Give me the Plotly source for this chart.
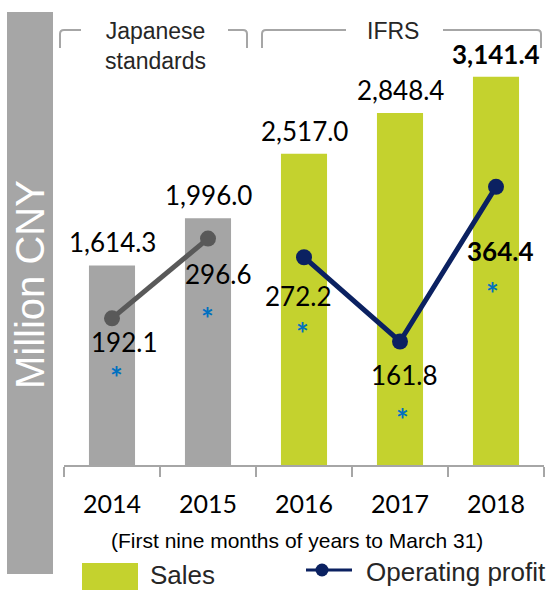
import plotly.graph_objects as go

# ---- data -------------------------------------------------------------
years = ["2014", "2015", "2016", "2017", "2018"]
sales = [1614.3, 1996.0, 2517.0, 2848.4, 3141.4]
operating_profit = [192.1, 296.6, 272.2, 161.8, 364.4]
n_japanese = 2  # first two periods reported under Japanese standards, rest IFRS

sales_text = [f"{v:,.1f}" for v in sales]
profit_text = [f"{v:,.1f}" for v in operating_profit]

# ---- canvas geometry ---------------------------------------------------
W, H = 554, 590
ML, MR, MT, MB = 64, 10, 20, 125
PW, PH = W - ML - MR, H - MT - MB
SALES_MAX = 3600
PROFIT_MAX = 583

GREY_BAR = "#A5A5A5"
GREEN = "#C4D22E"
NAVY = "#0B2161"
DARK_LINE = "#595959"
STAR_BLUE = "#0070C0"
BRACKET = "#A6A6A6"
NUM_FONT = "Lato"
TXT_FONT = "Liberation Sans"


def px(x):
    return (x - ML) / PW


def py(y):
    return (H - MB - y) / PH


fig = go.Figure()

# sales bars
fig.add_trace(go.Bar(
    x=years[:n_japanese], y=sales[:n_japanese], width=0.48,
    marker=dict(color=GREY_BAR, line=dict(width=0)),
    name="Sales (Japanese standards)", showlegend=False, hoverinfo="x+y",
))
fig.add_trace(go.Bar(
    x=years[n_japanese:], y=sales[n_japanese:], width=0.48,
    marker=dict(color=GREEN, line=dict(width=0)),
    name="Sales", showlegend=False, hoverinfo="x+y",
))

# operating profit lines (secondary axis)
fig.add_trace(go.Scatter(
    x=years[:n_japanese], y=operating_profit[:n_japanese], yaxis="y2",
    mode="lines+markers", line=dict(color=DARK_LINE, width=5),
    marker=dict(size=16, color=DARK_LINE), showlegend=False,
    name="Operating profit (Japanese standards)",
))
fig.add_trace(go.Scatter(
    x=years[n_japanese:], y=operating_profit[n_japanese:], yaxis="y2",
    mode="lines+markers", line=dict(color=NAVY, width=5),
    marker=dict(size=16, color=NAVY), showlegend=False,
    name="Operating profit",
))

annotations = []

# sales value labels above the bars (x given as category index)
for i, (v, t) in enumerate(zip(sales, sales_text)):
    bold = i == len(years) - 1
    annotations.append(dict(
        x=i, y=v, xref="x", yref="y", text=f"<b>{t}</b>" if bold else t,
        showarrow=False, xanchor="center", yanchor="bottom", yshift=5,
        font=dict(family=NUM_FONT, size=26, color="#000000"),
    ))

# operating profit labels and asterisks, placed around each marker
profit_label_shift = [(12, -24), (10, -35), (-6, -39), (4, -33), (4, -64)]
star_shift = [(4, -59), (-1, -79), (-2, -76), (2, -77), (-4, -106)]
for i, (v, t) in enumerate(zip(operating_profit, profit_text)):
    bold = i == len(years) - 1
    dx, dy = profit_label_shift[i]
    annotations.append(dict(
        x=i, y=v, xref="x", yref="y2", text=f"<b>{t}</b>" if bold else t,
        showarrow=False, xanchor="center", yanchor="middle",
        xshift=dx, yshift=dy,
        font=dict(family=NUM_FONT, size=26, color="#000000"),
    ))
    sx, sy = star_shift[i]
    annotations.append(dict(
        x=i, y=v, xref="x", yref="y2", text="<b>*</b>",
        showarrow=False, xanchor="center", yanchor="middle",
        xshift=sx, yshift=sy,
        font=dict(family=NUM_FONT, size=30, color=STAR_BLUE),
    ))


def paper_text(x, y, text, size, color="#262626", family=TXT_FONT,
               xanchor="center", angle=0):
    return dict(x=px(x), y=py(y), xref="paper", yref="paper", text=text,
                showarrow=False, xanchor=xanchor, yanchor="middle",
                textangle=angle,
                font=dict(family=family, size=size, color=color))


annotations += [
    paper_text(155, 46, "Japanese<br>standards", 23),
    paper_text(393, 31, "IFRS", 23),
    paper_text(30, 285, "Million CNY", 40, color="#FFFFFF", angle=-90),
    paper_text(297, 540, "(First nine months of years to March 31)", 21,
               color="#000000"),
    paper_text(148, 575, "Sales", 26, xanchor="left"),
    paper_text(364, 572, "Operating profit", 26, xanchor="left"),
]


def bracket_path(x0, x1, xgap0, xgap1, ytop, ybot, r=4):
    """Open bracket: down-stroke at both ends, top rule broken around a title."""
    X = lambda v: px(v)
    Y = lambda v: py(v)
    rx, ry = r / PW, r / PH
    left = (f"M {X(xgap0)},{Y(ytop)} L {X(x0) + rx},{Y(ytop)} "
            f"Q {X(x0)},{Y(ytop)} {X(x0)},{Y(ytop) - ry} L {X(x0)},{Y(ybot)}")
    right = (f"M {X(xgap1)},{Y(ytop)} L {X(x1) - rx},{Y(ytop)} "
             f"Q {X(x1)},{Y(ytop)} {X(x1)},{Y(ytop) - ry} L {X(x1)},{Y(ybot)}")
    return left + " " + right


shapes = [
    # grey band behind the unit label
    dict(type="rect", xref="paper", yref="paper",
         x0=px(7), x1=px(53), y0=py(574), y1=py(12),
         fillcolor="#A6A6A6", line=dict(width=0), layer="below"),
    # standards brackets
    dict(type="path", xref="paper", yref="paper",
         path=bracket_path(60, 247, 81, 228, 30, 48),
         line=dict(color=BRACKET, width=2)),
    dict(type="path", xref="paper", yref="paper",
         path=bracket_path(262, 541, 346, 443, 30, 48),
         line=dict(color=BRACKET, width=2)),
    # legend swatches
    dict(type="rect", xref="paper", yref="paper",
         x0=px(82), x1=px(138), y0=py(600), y1=py(563),
         fillcolor=GREEN, line=dict(width=0)),
    dict(type="line", xref="paper", yref="paper",
         x0=px(306), x1=px(352), y0=py(570), y1=py(570),
         line=dict(color=NAVY, width=3)),
    dict(type="circle", xref="paper", yref="paper",
         x0=px(315.5), x1=px(328.5), y0=py(576.5), y1=py(563.5),
         fillcolor=NAVY, line=dict(width=0)),
]

fig.update_layout(
    width=W, height=H,
    margin=dict(l=ML, r=MR, t=MT, b=MB),
    paper_bgcolor="#FFFFFF", plot_bgcolor="#FFFFFF",
    barmode="overlay", showlegend=False,
    xaxis=dict(
        type="category", range=[-0.5, len(years) - 0.5],
        tickson="boundaries", ticks="outside", ticklen=10, tickwidth=2,
        tickcolor=BRACKET, showline=True, linecolor=BRACKET, linewidth=2,
        showgrid=False, ticklabelstandoff=16,
        tickfont=dict(family=NUM_FONT, size=25, color="#000000"),
    ),
    yaxis=dict(range=[0, SALES_MAX], visible=False, showgrid=False),
    yaxis2=dict(range=[0, PROFIT_MAX], overlaying="y", visible=False,
                showgrid=False),
    annotations=annotations,
    shapes=shapes,
)

fig.write_html("out.html")
